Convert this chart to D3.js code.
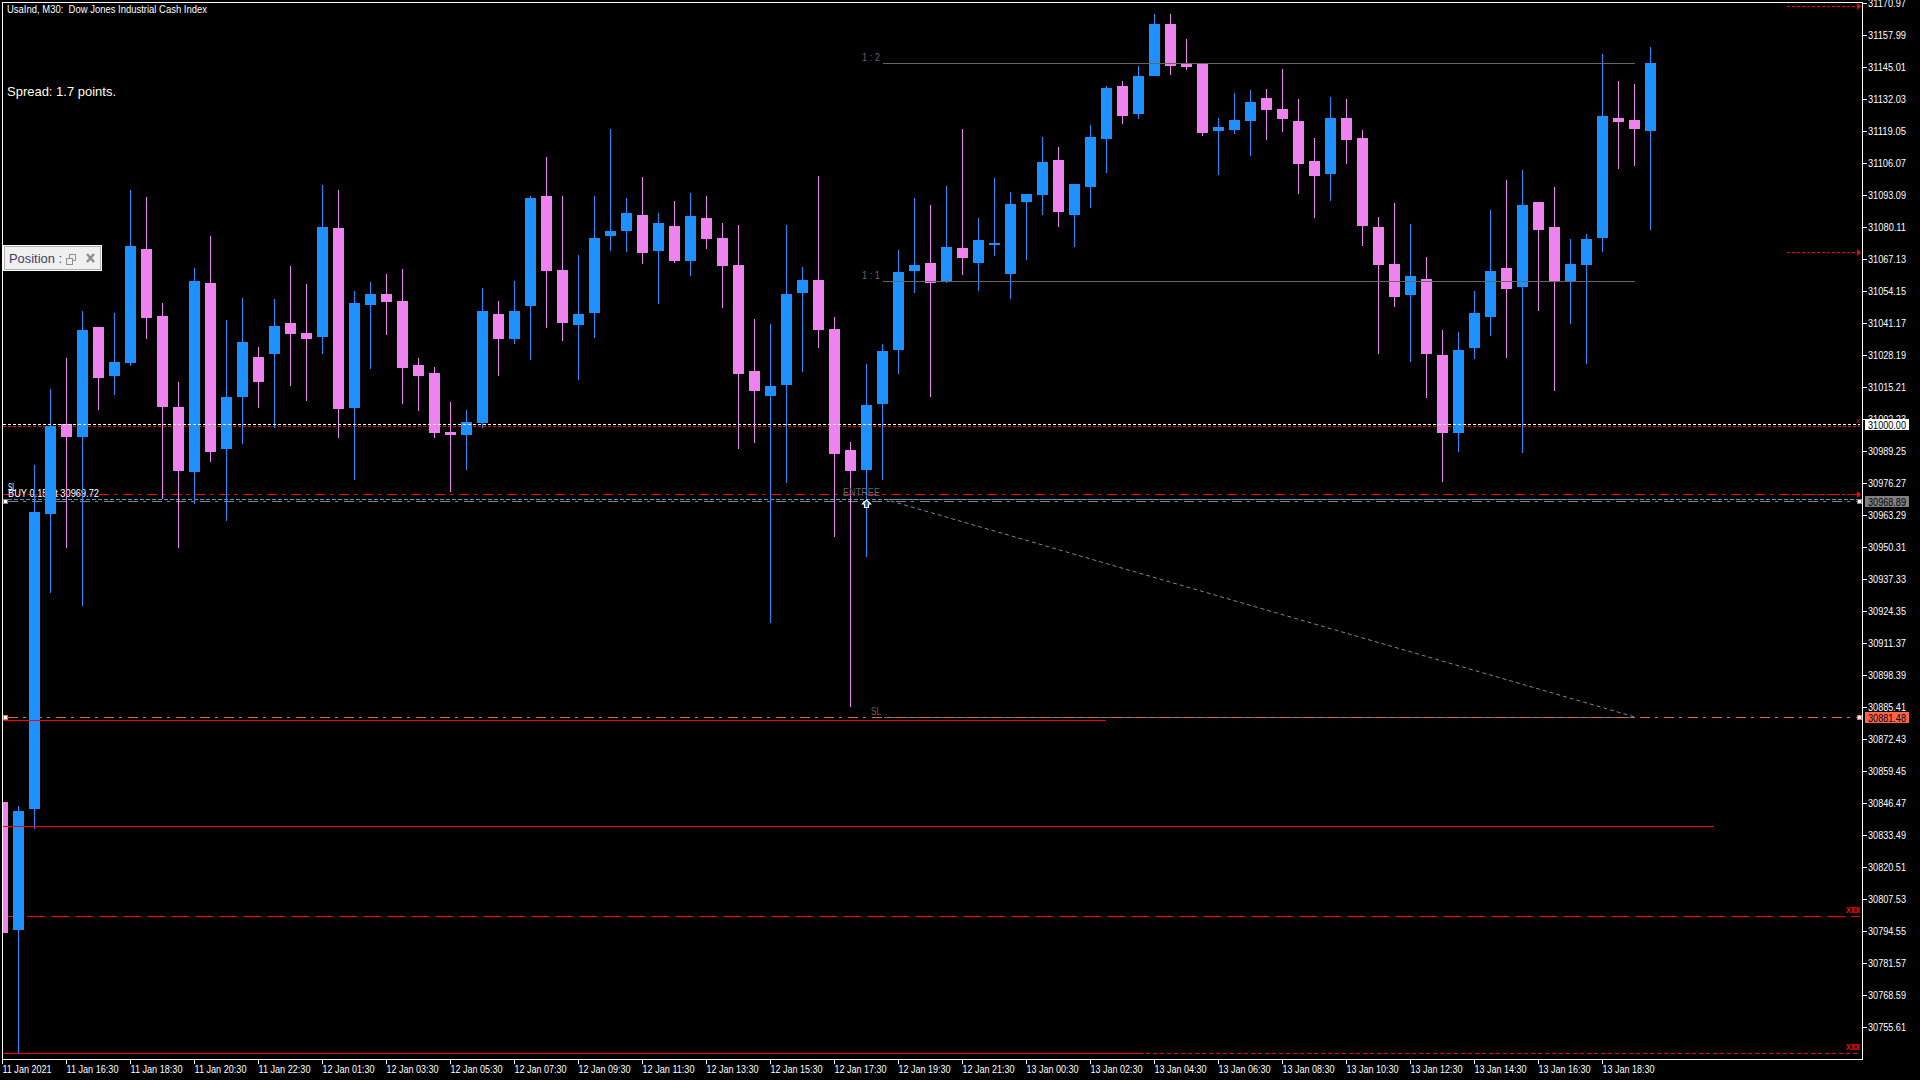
<!DOCTYPE html>
<html>
<head>
<meta charset="utf-8">
<title>UsaInd M30</title>
<script src="https://cdn.jsdelivr.net/npm/d3@7/dist/d3.min.js"></script>
<style>
    html, body { margin: 0; padding: 0; background: #000; overflow: hidden; }
    svg { display: block; }
    text { font-family: "Liberation Sans", Arial, sans-serif; white-space: pre; }
</style>
</head>
<body>
<svg id="chart" width="1920" height="1080"></svg>
<script>
const opens = [
    30846.9, 30795.0, 30844.0, 30963.7, 31000.2, 30994.9, 31039.6, 31019.7, 31025.0, 31071.2,
    31044.0, 31007.1, 30980.7, 31057.4, 30990.1, 31011.2, 31027.4, 31028.6, 31041.2, 31037.1,
    31035.5, 31079.7, 31006.7, 31048.5, 31052.9, 31050.1, 31024.1, 31020.9, 30997.0, 30995.7,
    31000.6, 31044.8, 31034.7, 31048.1, 31092.7, 31062.7, 31040.4, 31045.2, 31076.5, 31078.5,
    31085.0, 31070.4, 31080.5, 31066.3, 31083.8, 31075.7, 31064.7, 31021.7, 31011.6, 31016.0,
    31053.3, 31058.6, 31038.7, 30989.7, 30981.5, 31008.3, 31030.2, 31062.3, 31065.5, 31057.8,
    31071.6, 31065.5, 31072.8, 31061.1, 31090.3, 31093.1, 31107.3, 31085.0, 31096.3, 31115.8,
    31137.3, 31126.0, 31141.4, 31162.5, 31146.2, 31146.6, 31119.1, 31119.5, 31123.1, 31132.4,
    31128.0, 31123.1, 31106.9, 31101.6, 31124.3, 31116.2, 31080.1, 31065.1, 31052.5, 31059.0,
    31028.2, 30996.6, 31031.0, 31043.6, 31063.5, 31055.8, 31090.3, 31080.1, 31057.8, 31064.7,
    31075.7, 31124.3, 31123.5, 31119.1,
]
const closes = [
    30793.7, 30843.2, 30964.5, 30999.4, 30994.9, 31038.3, 31018.9, 31025.4, 31072.4, 31043.2,
    31007.1, 30981.1, 31058.2, 30988.9, 31011.2, 31033.5, 31017.2, 31040.0, 31036.7, 31034.7,
    31080.1, 31006.3, 31049.3, 31052.9, 31049.7, 31022.9, 31019.7, 30996.6, 30995.7, 31001.0,
    31046.0, 31034.7, 31046.0, 31091.9, 31062.3, 31041.2, 31044.8, 31075.7, 31078.5, 31085.8,
    31069.6, 31081.7, 31066.3, 31084.6, 31075.2, 31064.3, 31020.5, 31013.6, 31015.6, 31052.9,
    31058.6, 31038.3, 30988.0, 30981.1, 31007.9, 31029.8, 31061.9, 31064.7, 31057.4, 31072.0,
    31067.5, 31074.8, 31073.6, 31089.4, 31093.5, 31106.5, 31086.2, 31097.6, 31116.6, 31136.5,
    31125.1, 31141.4, 31162.5, 31145.4, 31145.0, 31118.2, 31120.7, 31123.5, 31130.8, 31127.6,
    31123.9, 31105.7, 31100.8, 31124.3, 31115.4, 31080.5, 31064.7, 31051.7, 31060.2, 31028.6,
    30996.6, 31030.2, 31045.2, 31062.3, 31055.0, 31089.0, 31078.9, 31058.2, 31065.1, 31075.2,
    31125.1, 31122.7, 31119.9, 31146.6,
]
const highs = [
    30846.9, 30845.3, 30983.6, 31014.4, 31027.0, 31046.0, 31039.6, 31045.2, 31095.1, 31092.3,
    31049.3, 31017.2, 31063.5, 31076.5, 31042.4, 31051.3, 31031.4, 31050.9, 31064.3, 31057.0,
    31097.2, 31095.1, 31054.2, 31057.8, 31061.1, 31063.1, 31027.0, 31023.3, 31009.1, 31005.9,
    31055.4, 31050.1, 31058.2, 31092.7, 31108.5, 31092.7, 31068.8, 31092.7, 31119.9, 31091.9,
    31100.4, 31085.8, 31090.7, 31093.9, 31092.7, 31081.7, 31080.9, 31042.8, 31040.8, 31080.9,
    31063.9, 31100.8, 31043.6, 30992.9, 31024.5, 31032.7, 31070.8, 31091.9, 31089.0, 31096.7,
    31119.9, 31083.8, 31100.0, 31094.3, 31093.5, 31116.6, 31112.6, 31097.6, 31121.5, 31137.3,
    31139.3, 31145.4, 31166.5, 31166.5, 31156.4, 31146.6, 31124.3, 31134.5, 31135.7, 31136.1,
    31144.2, 31132.0, 31116.2, 31132.8, 31132.0, 31119.5, 31084.2, 31089.9, 31081.3, 31067.9,
    31038.3, 31037.5, 31054.2, 31087.0, 31099.2, 31103.2, 31090.3, 31096.3, 31075.2, 31077.3,
    31150.3, 31139.3, 31138.1, 31153.1,
]
const lows = [
    30793.7, 30745.1, 30835.9, 30931.7, 30949.9, 30926.4, 31005.9, 31012.0, 31023.7, 31034.7,
    30969.8, 30949.9, 30967.8, 30984.8, 30960.9, 30992.1, 31006.7, 30998.6, 31015.6, 31009.5,
    31028.6, 30994.5, 30977.5, 31022.5, 31036.3, 31008.3, 31005.5, 30994.5, 30972.6, 30981.5,
    30998.6, 31019.7, 31032.7, 31026.2, 31039.1, 31033.9, 31018.1, 31035.1, 31070.4, 31070.0,
    31065.1, 31048.9, 31065.5, 31060.2, 31071.2, 31047.3, 30990.1, 30992.5, 30919.5, 30976.3,
    31021.3, 31031.0, 30954.4, 30885.4, 30946.3, 30977.5, 31020.5, 31053.3, 31011.2, 31057.4,
    31060.6, 31054.2, 31068.4, 31050.9, 31066.7, 31085.0, 31080.1, 31072.0, 31087.8, 31102.0,
    31121.9, 31123.9, 31141.4, 31141.8, 31143.8, 31117.0, 31101.2, 31117.8, 31108.9, 31115.4,
    31118.6, 31093.5, 31083.8, 31090.7, 31105.7, 31072.4, 31028.6, 31047.7, 31025.4, 31010.7,
    30976.7, 30988.9, 31026.6, 31035.9, 31027.0, 30988.4, 31046.0, 31013.6, 31040.8, 31024.5,
    31070.0, 31103.6, 31104.9, 31078.9,
]

const priceTicks = [
    31170.97, 31157.99, 31145.01, 31132.03, 31119.05, 31106.07, 31093.09, 31080.11,
    31067.13, 31054.15, 31041.17, 31028.19, 31015.21, 31002.23, 30989.25, 30976.27,
    30963.29, 30950.31, 30937.33, 30924.35, 30911.37, 30898.39, 30885.41, 30872.43,
    30859.45, 30846.47, 30833.49, 30820.51, 30807.53, 30794.55, 30781.57, 30768.59,
    30755.61,
]
const timeLabels = [
    '11 Jan 2021', '11 Jan 16:30', '11 Jan 18:30', '11 Jan 20:30', '11 Jan 22:30',
    '12 Jan 01:30', '12 Jan 03:30', '12 Jan 05:30', '12 Jan 07:30', '12 Jan 09:30',
    '12 Jan 11:30', '12 Jan 13:30', '12 Jan 15:30', '12 Jan 17:30', '12 Jan 19:30',
    '12 Jan 21:30', '13 Jan 00:30', '13 Jan 02:30', '13 Jan 04:30', '13 Jan 06:30',
    '13 Jan 08:30', '13 Jan 10:30', '13 Jan 12:30', '13 Jan 14:30', '13 Jan 16:30',
    '13 Jan 18:30',
]

// horizontal levels on the chart
const roundLevel = 31000
const pendingLevel = 30999.4
const resistLevel = 30971.8
const entryLevel = 30969.8
const openLevel = 30968.89
const stopLevel = 30881.48
const supportLevels = [30880.1, 30837.1]
const longDashLevel = 30800.6
const bottomLevel = 30745.1
const ratioTwo = 31146.6
const ratioOne = 31058.2
const arrowLevels = [31169.8, 31070.0, 30972.0]
const entryMarker = 30967.8
const entryIndex = 54

const up = '#1E90FF'
const down = '#EE82EE'
const red = '#FF0000'
const dim = '#666666'
const coral = '#FF6347'
const plotLeft = 3
const plotRight = 1862
const plotTop = 3
const plotBottom = 1059
const chartEnd = 1860

const svg = d3.select('#chart')
svg.append('rect').attr('width', 1920).attr('height', 1080).attr('fill', '#000')

const x = d3.scaleLinear().domain([0, 103]).range([2, 1650])
const yRaw = d3.scaleLinear().domain([31157.99, 30755.61]).range([35, 1027])
const y = (v) => Math.round(yRaw(v) - 0.01)

svg.append('defs')
    .append('clipPath')
    .attr('id', 'plot')
    .append('rect')
    .attr('x', plotLeft)
    .attr('y', plotTop)
    .attr('width', plotRight - plotLeft)
    .attr('height', plotBottom - plotTop)

const plot = svg.append('g').attr('clip-path', 'url(#plot)')

function hline(parent, level, x0, x1, color, dash) {
    return parent
        .append('line')
        .attr('x1', x0)
        .attr('x2', x1)
        .attr('y1', y(level) + 0.5)
        .attr('y2', y(level) + 0.5)
        .attr('stroke', color)
        .attr('stroke-width', 1)
        .attr('stroke-dasharray', dash || null)
        .attr('shape-rendering', 'crispEdges')
}

function label(parent, txt, px, py, size, color, width) {
    const t = parent
        .append('text')
        .attr('x', px)
        .attr('y', py)
        .attr('font-size', size)
        .attr('fill', color)
        .attr('dominant-baseline', 'central')
        .text(txt)
    if (width) t.attr('textLength', width).attr('lengthAdjust', 'spacingAndGlyphs')
    return t
}

// levels behind the candles
const dashDot = '10 5 3 6'
hline(plot, pendingLevel, plotLeft, chartEnd, red, '3 2')
hline(plot, resistLevel, plotLeft, chartEnd, red, dashDot)
hline(plot, entryLevel, x(55) + 2, x(102) + 1, '#707070')
hline(plot, entryLevel, 8, chartEnd, '#29ABE2', '4 2')
hline(plot, openLevel, 8, chartEnd, '#808080', dashDot)
hline(plot, stopLevel, x(55) + 2, x(102) + 1, '#707070')
hline(plot, stopLevel, 8, chartEnd, '#F0654A', dashDot)
hline(plot, longDashLevel, plotLeft, chartEnd, red, '18 6')

label(plot, 'SL', 8, 487, 10, '#fff', 8)
label(plot, 'BUY 0.15 at 30969.72', 8, 493, 11, '#fff', 91)

// candles
const candles = plot
    .selectAll('.candle')
    .data(opens.map((o, i) => ({ i, o, c: closes[i], h: highs[i], l: lows[i] })))
    .join('g')
    .attr('class', 'candle')
    .attr('fill', (d) => (d.c >= d.o ? up : down))
    .attr('shape-rendering', 'crispEdges')

candles
    .append('rect')
    .attr('x', (d) => x(d.i))
    .attr('width', 1)
    .attr('y', (d) => y(d.h))
    .attr('height', (d) => y(d.l) - y(d.h))

candles
    .append('rect')
    .attr('x', (d) => x(d.i) - 5)
    .attr('width', 11)
    .attr('y', (d) => y(Math.max(d.o, d.c)))
    .attr('height', (d) => Math.max(1, y(Math.min(d.o, d.c)) - y(Math.max(d.o, d.c))))

// levels drawn over the candles
hline(plot, roundLevel, plotLeft, chartEnd, '#fff', '3 2')
hline(plot, supportLevels[0], plotLeft, x(69), red)
hline(plot, supportLevels[1], plotLeft, x(107), red)
hline(plot, bottomLevel, plotLeft, x(71) + 1, red)
hline(plot, bottomLevel, x(71) + 1, chartEnd, red, '4 3')

hline(plot, ratioTwo, x(55) + 1, x(102) + 1, dim)
hline(plot, ratioOne, x(55) + 1, x(102) + 1, dim)
label(plot, '1 : 2', 862, y(ratioTwo) - 6, 10, dim, 18)
label(plot, '1 : 1', 862, y(ratioOne) - 6, 10, dim, 18)
label(plot, 'ENTREE', 843, 492, 10, dim, 37)
label(plot, 'SL', 871, 711, 10, dim, 10)

plot.append('line')
    .attr('x1', x(55) + 2)
    .attr('y1', y(entryLevel))
    .attr('x2', x(102) + 1)
    .attr('y2', y(stopLevel))
    .attr('stroke', '#778899')
    .attr('stroke-width', 1)
    .attr('stroke-dasharray', '4 3')

// entry arrow
plot.append('path')
    .attr('transform', `translate(${x(entryIndex) + 0.5},${y(entryMarker)})`)
    .attr('d', 'M0,-4 L4,0 L2,0 L2,3.5 L-2,3.5 L-2,0 L-4,0 Z')
    .attr('fill', '#1464A8')
    .attr('stroke', '#fff')
    .attr('stroke-width', 1.2)

// red arrows at the right edge
arrowLevels.forEach((level) => {
    hline(plot, level, 1787, 1857, red, '3 2')
    plot.append('path')
        .attr('transform', `translate(1857,${y(level) + 0.5})`)
        .attr('d', 'M0,-3.5 L4,0 L0,3.5 Z')
        .attr('fill', red)
})

label(plot, 'xxx', 1846, 909, 10, red, 14).attr('font-weight', 'bold')
label(plot, 'xxx', 1846, 1046, 10, red, 14).attr('font-weight', 'bold')
label(plot, 'x', 1856, 420, 8, red, 4)

// drag handles on the trade lines
const handles = [
    [openLevel, '#808080'],
    [stopLevel, coral],
]
handles.forEach(([level, color]) => {
    ;[3, 1857].forEach((px) => {
        plot.append('rect')
            .attr('x', px + 0.5)
            .attr('y', y(level) - 2)
            .attr('width', 4)
            .attr('height', 4)
            .attr('fill', '#fff')
            .attr('stroke', color)
            .attr('shape-rendering', 'crispEdges')
    })
})

// frame
const frame = svg
    .append('g')
    .attr('fill', 'none')
    .attr('stroke', '#fff')
    .attr('shape-rendering', 'crispEdges')
frame.append('path').attr('d', `M2.5,${plotBottom + 0.5} V2.5 H${plotRight + 0.5} V${plotBottom + 0.5} H2.5`)

// price axis
const yAxis = d3.axisRight(yRaw).tickValues(priceTicks).tickSize(5).tickPadding(1).tickFormat(d3.format('.2f'))
const yG = svg.append('g').attr('transform', `translate(${plotRight},0)`).call(yAxis)
yG.select('.domain').remove()
yG.selectAll('.tick line').attr('stroke', '#fff').attr('shape-rendering', 'crispEdges')
yG.selectAll('.tick text')
    .attr('fill', '#fff')
    .attr('font-size', 11)
    .attr('font-family', '"Liberation Sans", Arial, sans-serif')
    .attr('textLength', 38)
    .attr('lengthAdjust', 'spacingAndGlyphs')

// price tags on the axis
const tags = [
    [roundLevel, '#fff', '#000', '31000.00'],
    [openLevel, '#808080', '#000', '30968.89'],
    [stopLevel, coral, '#000', '30881.48'],
]
tags.forEach(([level, bg, fg, txt]) => {
    svg.append('rect')
        .attr('x', 1865)
        .attr('y', y(level) - 5)
        .attr('width', 44)
        .attr('height', 11)
        .attr('fill', bg)
        .attr('shape-rendering', 'crispEdges')
    label(svg, txt, 1868, y(level) + 0.5, 11, fg, 38)
})

// time axis
const xAxis = d3.axisBottom(x)
    .tickValues(timeLabels.map((d, i) => i * 4))
    .tickSize(4)
    .tickPadding(2)
    .tickFormat((d) => timeLabels[d / 4])
const xG = svg.append('g').attr('transform', `translate(0,${plotBottom + 0.5})`).call(xAxis)
xG.select('.domain').remove()
xG.selectAll('.tick line').attr('stroke', '#fff').attr('shape-rendering', 'crispEdges')
xG.selectAll('.tick text')
    .attr('fill', '#fff')
    .attr('font-size', 11)
    .attr('font-family', '"Liberation Sans", Arial, sans-serif')
    .attr('text-anchor', 'start')
    .attr('textLength', (d) => (d === 0 ? 49 : 52))
    .attr('lengthAdjust', 'spacingAndGlyphs')

// top left captions
label(svg, 'UsaInd, M30:  Dow Jones Industrial Cash Index', 7, 9, 11, '#fff', 200)
label(svg, 'Spread: 1.7 points.', 7, 91, 13.5, '#FFFFE8', 109)

// position panel
const panel = svg.append('g')
panel.append('rect')
    .attr('x', 3.5)
    .attr('y', 245.5)
    .attr('width', 98)
    .attr('height', 25)
    .attr('fill', '#F0F0F0')
    .attr('stroke', '#fff')
panel.append('rect')
    .attr('x', 4.5)
    .attr('y', 246.5)
    .attr('width', 96)
    .attr('height', 23)
    .attr('fill', 'none')
    .attr('stroke', '#B0B0B0')
label(panel, 'Position :', 9, 258.5, 12, '#3C3C64', 53)
panel.append('path')
    .attr('d', 'M66.5,258.5 h6 v6 h-6 z M69.5,258.5 v-4 h6 v6 h-3')
    .attr('fill', 'none')
    .attr('stroke', '#909090')
    .attr('shape-rendering', 'crispEdges')
panel.append('path')
    .attr('d', 'M87,254 L94,262 M94,254 L87,262')
    .attr('stroke', '#8C8C8C')
    .attr('stroke-width', 2.4)
</script>
</body>
</html>
